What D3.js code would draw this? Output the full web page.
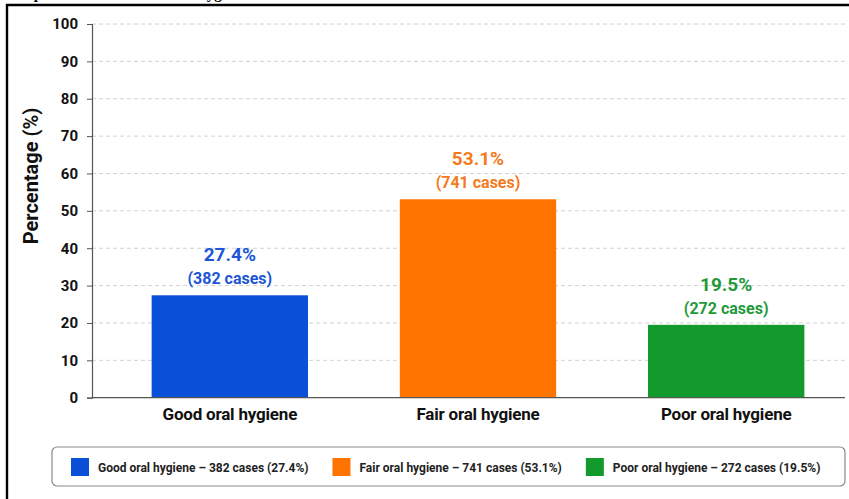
<!DOCTYPE html>
<html>
<head>
<meta charset="utf-8">
<script src="https://cdn.jsdelivr.net/npm/d3@7"></script>
<style>
  body { margin: 0; background: #fff; }
  svg { display: block; }
</style>
</head>
<body>
<div id="chart"></div>
<script>
// chart data
const categories = ['Good oral hygiene', 'Fair oral hygiene', 'Poor oral hygiene'];
const percentages = [27.4, 53.1, 19.5];
const caseCounts = [382, 741, 272];
const yTicks = [0, 10, 20, 30, 40, 50, 60, 70, 80, 90, 100];

const barColors = ['#0a50d8', '#ff7300', '#139a2c'];
const labelColors = ['#1c56d6', '#f47a1c', '#1f9a3a'];

const width = 849;
const height = 499;
const margin = {top: 24, right: 4, bottom: 101, left: 92};
const plotRight = 845;

const svg = d3.select('#chart')
    .append('svg')
    .attr('width', width)
    .attr('height', height);

// title of the page above is cut off, only the descenders show
svg.append('text')
    .text('Graph 1: Distribution of oral hygiene status')
    .attr('x', 8)
    .attr('y', -1.5)
    .style('font-family', '"Liberation Serif", "DejaVu Serif", serif')
    .style('font-weight', 'bold')
    .style('font-size', '15px')
    .attr('fill', '#000');

// black frame (top and left only)
svg.append('path')
    .attr('d', `M7,499 V5 H849`)
    .attr('fill', 'none')
    .attr('stroke', '#000')
    .attr('stroke-width', 2.4);

const yScale = d3.scaleLinear()
    .domain([0, 100])
    .range([397.7, 24]);

const xScale = d3.scaleBand()
    .domain(categories)
    .range([102, 854])
    .paddingInner(0.37)
    .paddingOuter(0.2);

// dashed gridlines
svg.append('g')
    .selectAll('line')
    .data(yTicks.filter(d => d > 0))
    .enter()
    .append('line')
    .attr('x1', margin.left)
    .attr('x2', plotRight)
    .attr('y1', d => yScale(d))
    .attr('y2', d => yScale(d))
    .attr('stroke', '#d2d2d2')
    .attr('stroke-width', 1)
    .attr('stroke-dasharray', '4,3');

// bars
svg.append('g')
    .selectAll('rect')
    .data(percentages)
    .enter()
    .append('rect')
    .attr('x', (d, i) => xScale(categories[i]))
    .attr('width', xScale.bandwidth())
    .attr('y', d => yScale(d))
    .attr('height', d => yScale(0) - yScale(d))
    .attr('fill', (d, i) => barColors[i]);

// value labels above the bars
const valueLabels = svg.append('g')
    .style('font-family', 'Roboto, "Liberation Sans", sans-serif')
    .style('font-weight', 'bold')
    .attr('text-anchor', 'middle');

valueLabels.selectAll('text.pct')
    .data(percentages)
    .enter()
    .append('text')
    .attr('class', 'pct')
    .text(d => d.toFixed(1) + '%')
    .attr('x', (d, i) => xScale(categories[i]) + xScale.bandwidth() / 2)
    .attr('y', d => yScale(d) - 34)
    .style('font-size', '19px')
    .attr('fill', (d, i) => labelColors[i]);

valueLabels.selectAll('text.cases')
    .data(caseCounts)
    .enter()
    .append('text')
    .attr('class', 'cases')
    .text(d => `(${d} cases)`)
    .attr('x', (d, i) => xScale(categories[i]) + xScale.bandwidth() / 2)
    .attr('y', (d, i) => yScale(percentages[i]) - 11)
    .style('font-size', '16px')
    .attr('fill', (d, i) => labelColors[i]);

// y axis
const yAxis = d3.axisLeft(yScale)
    .tickValues(yTicks)
    .tickSize(5)
    .tickPadding(9);

const yAxisG = svg.append('g')
    .attr('transform', `translate(${margin.left}, 0)`)
    .call(yAxis);

yAxisG.select('.domain').attr('stroke', '#555').attr('stroke-width', 1.2);
yAxisG.selectAll('.tick line').attr('stroke', '#555');
yAxisG.selectAll('.tick text')
    .style('font-family', 'Roboto, "Liberation Sans", sans-serif')
    .style('font-weight', 'bold')
    .style('font-size', '15px')
    .attr('fill', '#111');

// x axis baseline and category labels
const xAxis = d3.axisBottom(xScale).tickSize(0).tickPadding(10);

const xAxisG = svg.append('g')
    .attr('transform', `translate(0, ${yScale(0)})`)
    .call(xAxis);

xAxisG.select('.domain')
    .attr('d', `M${margin.left},0H${plotRight}`)
    .attr('stroke', '#555')
    .attr('stroke-width', 1.2);
xAxisG.selectAll('.tick text')
    .style('font-family', 'Roboto, "Liberation Sans", sans-serif')
    .style('font-weight', 'bold')
    .style('font-size', '17px')
    .style('letter-spacing', '-0.2px')
    .attr('fill', '#111');

// y axis title
svg.append('text')
    .text('Percentage (%)')
    .attr('transform', 'translate(38, 176) rotate(-90)')
    .attr('text-anchor', 'middle')
    .style('font-family', 'Roboto, "Liberation Sans", sans-serif')
    .style('font-weight', 'bold')
    .style('font-size', '20px')
    .attr('fill', '#111');

// legend
const legend = svg.append('g');

legend.append('rect')
    .attr('x', 52)
    .attr('y', 447)
    .attr('width', 793)
    .attr('height', 39)
    .attr('rx', 5)
    .attr('fill', '#fff')
    .attr('stroke', '#8a8a8a')
    .attr('stroke-width', 1.2);

let legendX = 71;
categories.forEach(function(cat, i) {
    legend.append('rect')
        .attr('x', legendX)
        .attr('y', 458)
        .attr('width', 18)
        .attr('height', 18)
        .attr('fill', barColors[i]);

    const t = legend.append('text')
        .text(`${cat} – ${caseCounts[i]} cases (${percentages[i].toFixed(1)}%)`)
        .attr('x', legendX + 27)
        .attr('y', 471.5)
        .style('font-family', 'Roboto, "Liberation Sans", sans-serif')
        .style('font-weight', 'bold')
        .style('font-size', '12px')
        .attr('fill', '#222');

    legendX += 27 + t.node().getComputedTextLength() + 24;
});
</script>
</body>
</html>
